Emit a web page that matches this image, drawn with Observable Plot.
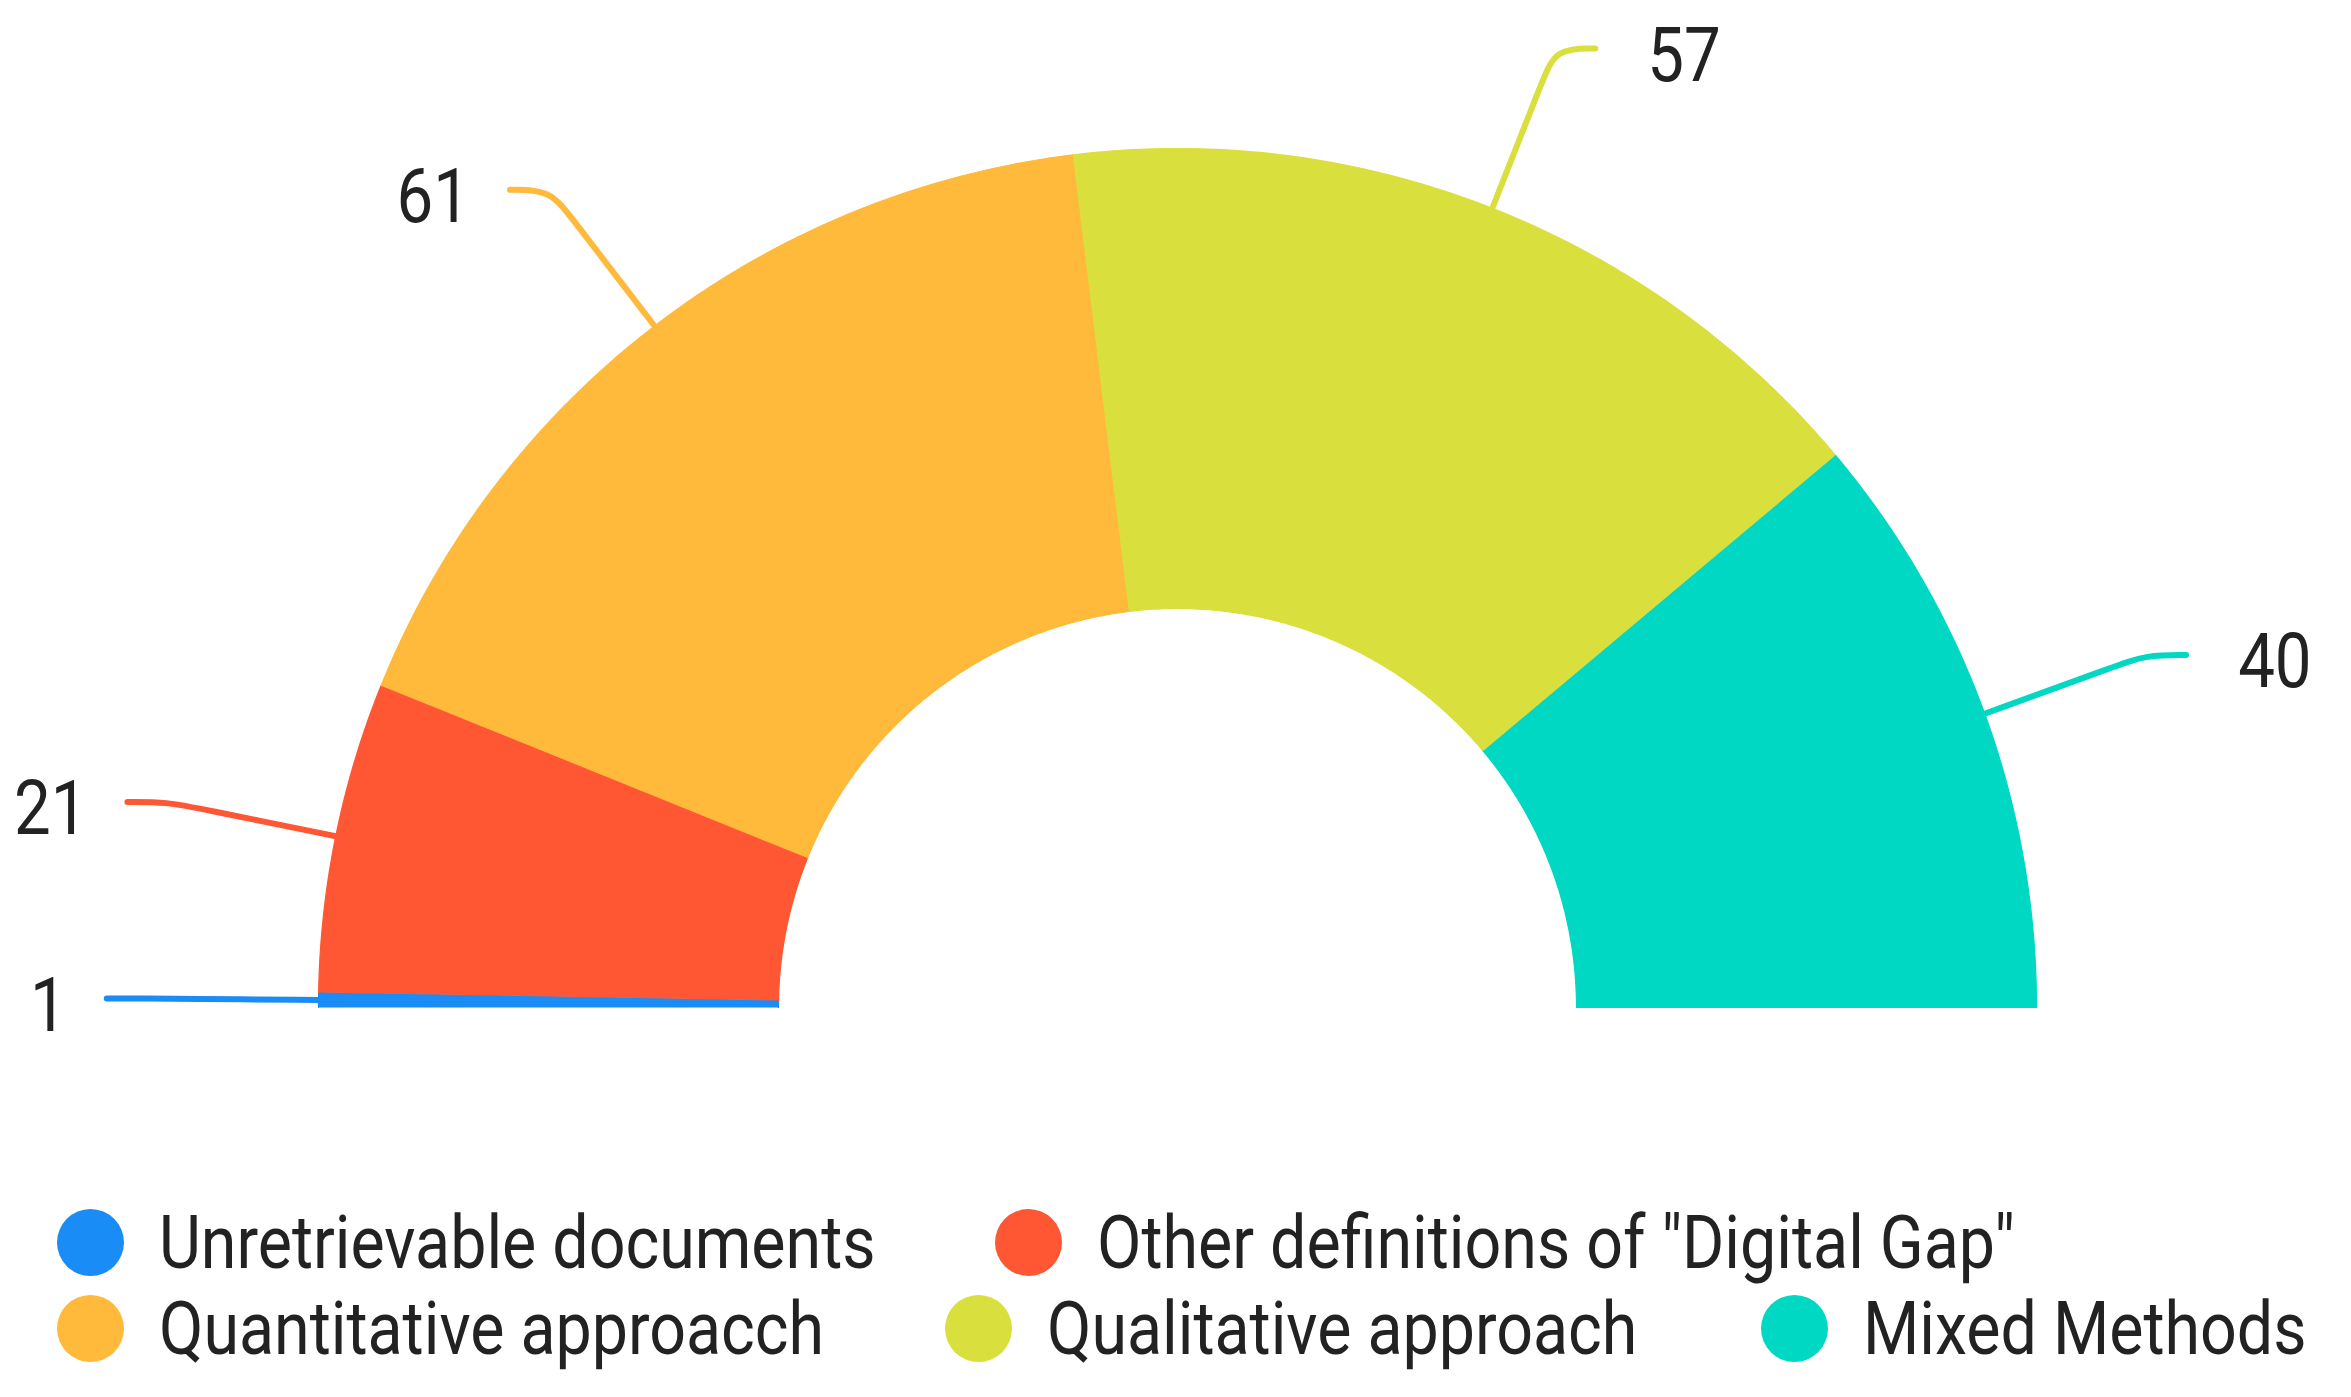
<!DOCTYPE html>
<html><head><meta charset="utf-8">
<script src="https://cdn.jsdelivr.net/npm/d3@7"></script>
<script src="https://cdn.jsdelivr.net/npm/@observablehq/plot@0.6"></script>
<style>
body{margin:0;background:#fff;}
#wrap{position:relative;width:2351px;height:1397px;overflow:hidden;}
#legend{position:relative;width:2351px;height:237px;font-family:Roboto,sans-serif;color:#222;}
.item{position:absolute;height:80px;display:flex;align-items:center;white-space:nowrap;}
.sw{width:67px;height:67px;border-radius:50%;flex:none;}
.lab{font-size:75px;line-height:80px;display:inline-block;transform:scaleX(0.86);transform-origin:left center;margin-left:35px;}
</style></head><body>
<div id="wrap"><div id="chart"></div><div id="legend"></div></div>
<script>
// ---- data ----
const categories = ["Unretrievable documents", "Other definitions of \"Digital Gap\"", "Quantitative approacch", "Qualitative approach", "Mixed Methods"];
const values = [1, 21, 61, 57, 40];
const colors = ["#1a8cf5", "#ff5733", "#ffb93b", "#d9df3c", "#00d8c4"];

// ---- layout ----
const W = 2351, H = 1160, cx = 1177, cy = 1007, R = 859, rIn = 399;
const inner = rIn / R;
const ext = 0.2, tail = 40 / R, gapL = 40 / R, gapR = 52 / R;
const legendLeft = [57, 995, 57, 945, 1761];
const legendTop = [42, 42, 128, 128, 128];

const total = d3.sum(values);
const arcPts = [], leaderPts = [], labels = [];
let cum = 0;
values.forEach((v, i) => {
  const cat = categories[i];
  const a0 = Math.PI * (1 - cum / total), a1 = Math.PI * (1 - (cum + v) / total);
  const n = Math.max(4, Math.ceil(v * 2));
  for (let k = 0; k <= n; k++) { const a = a0 + (a1 - a0) * k / n; arcPts.push({cat, x: Math.cos(a), y: Math.sin(a)}); }
  for (let k = n; k >= 0; k--) { const a = a0 + (a1 - a0) * k / n; arcPts.push({cat, x: inner * Math.cos(a), y: inner * Math.sin(a)}); }
  const m = (a0 + a1) / 2, c = Math.cos(m), s = Math.sin(m);
  const side = c < 0 ? -1 : 1;
  const bx = c * (1 + ext), by = s * (1 + ext);
  leaderPts.push({cat, x: c, y: s});
  leaderPts.push({cat, x: c * (1 + ext * 0.8), y: s * (1 + ext * 0.8)});
  leaderPts.push({cat, x: bx, y: by});
  leaderPts.push({cat, x: bx + side * tail, y: by});
  labels.push({cat, side, text: String(v), x: bx + side * tail + side * (side < 0 ? gapL : gapR), y: by});
  cum += v;
});

const plot = Plot.plot({
  width: W, height: H, margin: 0,
  style: {fontFamily: "Roboto, sans-serif", background: "white"},
  x: {domain: [-cx / R, (W - cx) / R], axis: null},
  y: {domain: [-(H - cy) / R, cy / R], axis: null},
  color: {domain: categories, range: colors},
  marks: [
    Plot.line(arcPts, {x: "x", y: "y", z: "cat", fill: "cat", stroke: "cat", strokeWidth: 1.2, curve: "linear"}),
    Plot.line(leaderPts, {x: "x", y: "y", z: "cat", stroke: "cat", strokeWidth: 6, curve: "basis"}),
    Plot.text(labels.filter(d => d.side < 0), {x: "x", y: "y", text: "text", textAnchor: "end", fontSize: 76, fill: "#222", lineAnchor: "middle", dy: 8}),
    Plot.text(labels.filter(d => d.side > 0), {x: "x", y: "y", text: "text", textAnchor: "start", fontSize: 76, fill: "#222", lineAnchor: "middle", dy: 8})
  ]
});
document.getElementById("chart").append(plot);
plot.querySelectorAll("text").forEach(t => {
  const L = t.getComputedTextLength();
  if (L > 0) { t.setAttribute("textLength", L * 0.86); t.setAttribute("lengthAdjust", "spacingAndGlyphs"); }
});

// ---- legend ----
const lg = document.getElementById("legend");
categories.forEach((cat, i) => {
  const it = document.createElement("div");
  it.className = "item";
  it.style.left = legendLeft[i] + "px";
  it.style.top = legendTop[i] + "px";
  const sw = document.createElement("div");
  sw.className = "sw"; sw.style.background = colors[i];
  const lb = document.createElement("span");
  lb.className = "lab"; lb.textContent = cat;
  it.append(sw, lb);
  lg.append(it);
});
</script>
</body></html>
